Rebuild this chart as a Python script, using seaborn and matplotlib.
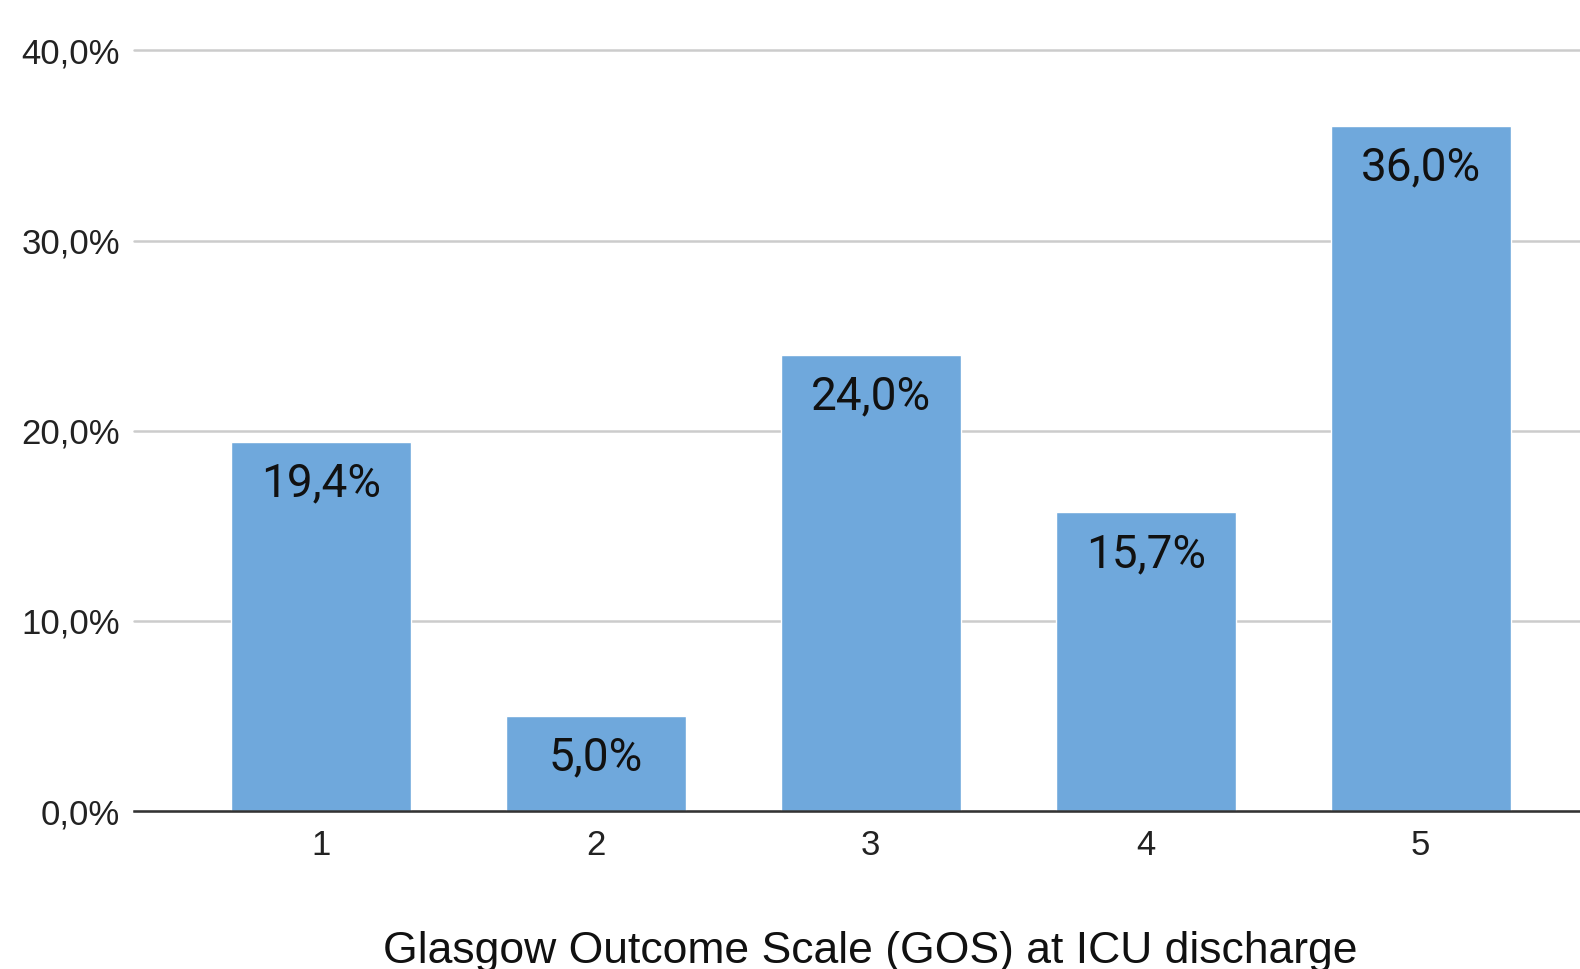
import matplotlib
matplotlib.use("Agg")
import matplotlib.pyplot as plt
import seaborn as sns
import pandas as pd

# GOS score categories and share of patients (%)
categories = ["1", "2", "3", "4", "5"]
shares = [19.4, 5.0, 24.0, 15.7, 36.0]
y_ticks = [0, 10, 20, 30, 40]
x_title = "Glasgow Outcome Scale (GOS) at ICU discharge"

df = pd.DataFrame({"gos": categories, "share": shares})

sns.set_theme(style="white")
plt.rcParams["font.family"] = ["Liberation Sans", "DejaVu Sans"]

fig = plt.figure(figsize=(15.8, 9.69), dpi=100)
ax = fig.add_axes([0.0848, 0.163, 0.9152, 0.785])

sns.barplot(data=df, x="gos", y="share", color="#6fa8dc", saturation=1,
            width=0.655, ax=ax, zorder=3)

ax.set_ylim(0, 40)
ax.set_xlim(-0.68, 4.58)
ax.set_yticks(y_ticks)
ax.set_yticklabels([f"{v:.1f}%".replace(".", ",") for v in y_ticks])
ax.yaxis.grid(True, color="#cccccc", linewidth=1.8, zorder=0)
ax.set_axisbelow(True)
for g in ax.get_ygridlines():
    g.set_clip_on(False)

for side in ["top", "right", "left"]:
    ax.spines[side].set_visible(False)
ax.spines["bottom"].set_color("#333333")
ax.spines["bottom"].set_linewidth(1.8)
ax.spines["bottom"].set_zorder(4)

ax.tick_params(axis="both", length=0, labelsize=25, colors="#222222")
ax.tick_params(axis="x", pad=13)
ax.tick_params(axis="y", pad=10)

ax.set_ylabel("")
ax.set_xlabel(x_title, fontsize=32, color="#111111")
ax.xaxis.set_label_coords(0.509, -0.158)
ax.xaxis.label.set_va("top")

for patch, val in zip(ax.patches, shares):
    cx = patch.get_x() + patch.get_width() / 2
    ax.annotate(f"{val:.1f}%".replace(".", ","), xy=(cx, val),
                xytext=(0, -14), textcoords="offset points",
                ha="center", va="top", fontsize=33,
                family=["Roboto", "DejaVu Sans"], color="#111111", zorder=5)

fig.savefig("out.png", dpi=100)
